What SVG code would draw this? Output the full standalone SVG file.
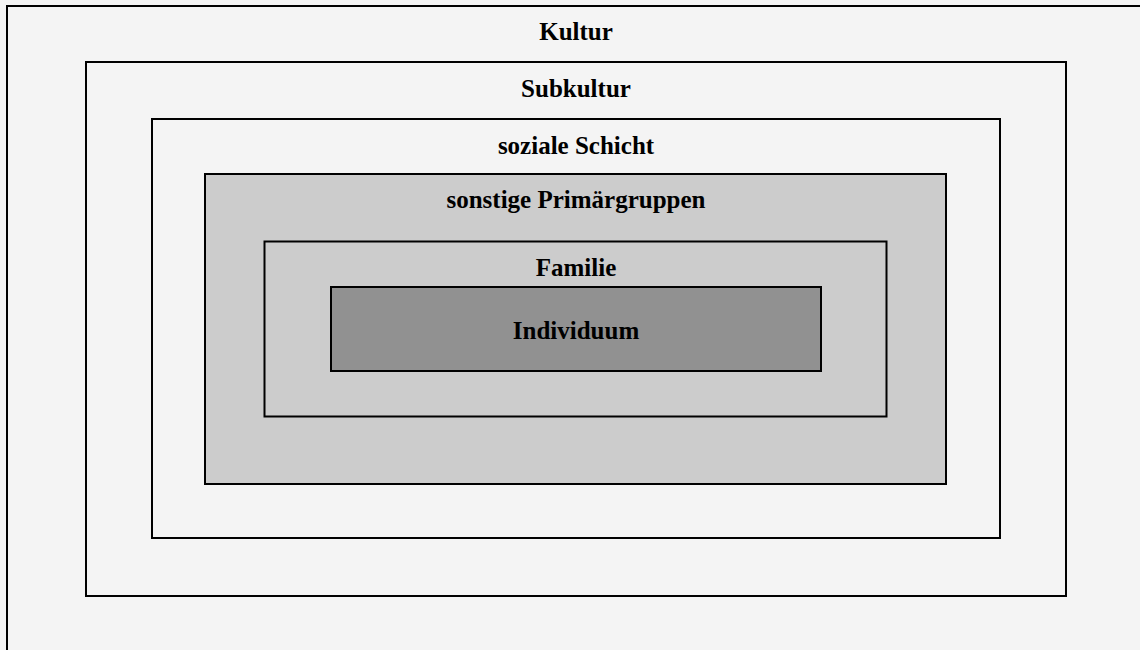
<svg xmlns="http://www.w3.org/2000/svg" width="1140" height="650" viewBox="0 0 1140 650">
<style>
rect.box{stroke:#000;stroke-width:2}
.l{fill:#f4f4f4}
.m{fill:#cccccc}
.d{fill:#919191}
text{font-family:"Liberation Serif","Times New Roman",serif;font-weight:bold;font-size:25px;fill:#000;text-anchor:middle}
</style>
<rect width="1140" height="650" fill="#f4f4f4"/>
<g id="kultur"><rect class="box l" x="7" y="6" width="1145" height="660"/><text x="576" y="40">Kultur</text></g>
<g id="subkultur"><rect class="box l" x="86" y="62" width="980" height="534"/><text x="576" y="97">Subkultur</text></g>
<g id="schicht"><rect class="box l" x="152" y="119" width="848" height="419"/><text x="576" y="154">soziale Schicht</text></g>
<g id="primaer"><rect class="box m" x="205" y="174" width="741" height="310"/><text x="576" y="208">sonstige Primärgruppen</text></g>
<g id="familie"><rect class="box m" x="264.5" y="241.5" width="622" height="175"/><text x="576" y="276">Familie</text></g>
<g id="individuum"><rect class="box d" x="331" y="287" width="490" height="84"/><text x="576" y="339">Individuum</text></g>
<g id="connectors"></g>
</svg>
